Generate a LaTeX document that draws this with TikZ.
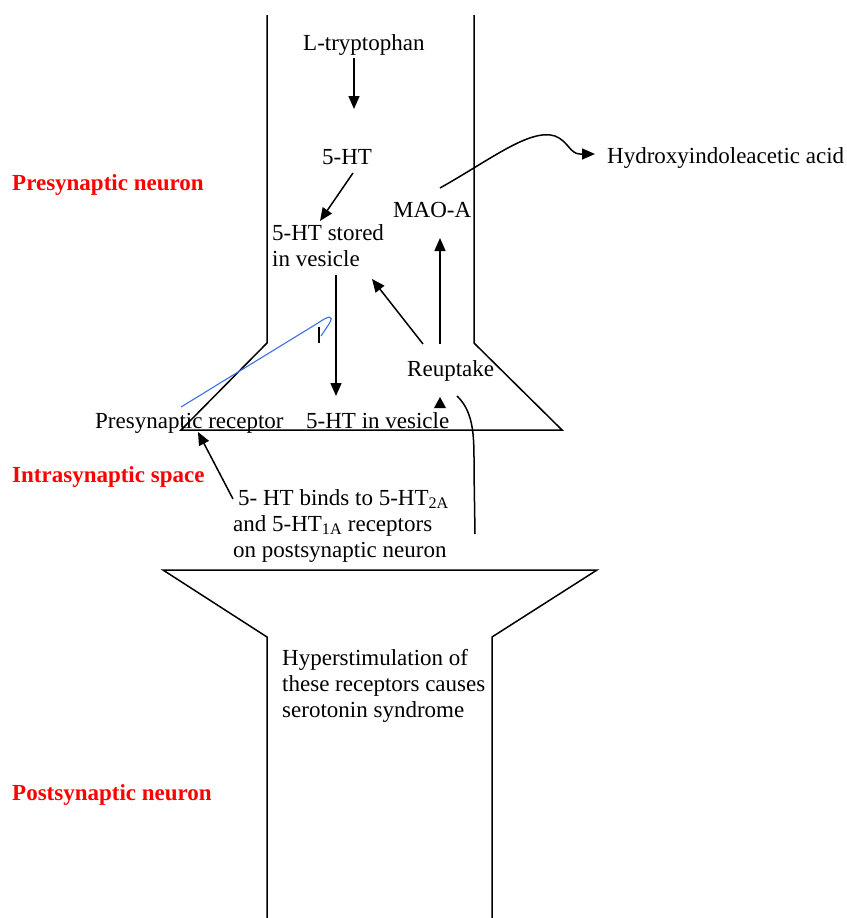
\documentclass[tikz,border=0pt]{standalone}
\usepackage{fontspec}
\setmainfont{Liberation Serif}
\usetikzlibrary{arrows.meta}
\definecolor{lblred}{RGB}{255,0,0}
\definecolor{bluepen}{RGB}{60,110,230}
\tikzset{
  lbl/.style={inner sep=0pt, anchor=base west, font=\fontsize{23}{26}\selectfont},
  mlbl/.style={inner sep=0pt, anchor=north west, align=left, font=\fontsize{23}{26}\selectfont},
  region/.style={inner sep=0pt, anchor=base west, text=lblred, font=\fontsize{23}{26}\selectfont\bfseries},
  outline/.style={line width=1.5pt, line join=miter},
  arr/.style={line width=1.5pt, -{Triangle[length=13pt,width=11pt]}},
}
\begin{document}
\begin{tikzpicture}[x=1pt,y=-1pt]
\useasboundingbox (0,0) rectangle (846,918);
% neuron outlines
\draw[outline] (267,15) -- (267,343) -- (181,430) -- (562,430) -- (474,343) -- (474,15);
\draw[outline] (267,918) -- (267,637) -- (163,570) -- (597,570) -- (492,637) -- (492,918);
% region labels
\node[region] (pre) at (12,190) {Presynaptic neuron};
\node[region] (intra) at (12,482) {Intrasynaptic space};
\node[region] (post) at (12,800) {Postsynaptic neuron};
% text nodes
\node[lbl] (ltrp) at (303,50) {L-tryptophan};
\node[lbl] (ht) at (322,164) {5-HT};
\node[lbl] (hiaa) at (607,163) {Hydroxyindoleacetic acid};
\node[lbl] (mao) at (393,217) {MAO-A};
\node[mlbl] (stored) at (272,224) {5-HT stored\\in vesicle};
\node[lbl] (reup) at (407,376) {Reuptake};
\node[lbl] (prerec) at (95,428) {Presynaptic receptor};
\node[lbl] (vesic) at (306,428) {5-HT in vesicle};
\node[mlbl] (binds) at (233,489) {\hspace*{5pt}5- HT binds to 5-HT\textsubscript{2A}\\and 5-HT\textsubscript{1A} receptors\\on postsynaptic neuron};
\node[mlbl] (hyper) at (282,649) {Hyperstimulation of\\these receptors causes\\serotonin syndrome};
% connector end points
\coordinate (a1) at (354,58);   \coordinate (a2) at (354,109);
\coordinate (b1) at (353,173);  \coordinate (b2) at (320,221);
\coordinate (c1) at (336,275);  \coordinate (c2) at (336,396);
\coordinate (d1) at (423,344);  \coordinate (d2) at (372,279);
\coordinate (e1) at (440,344);  \coordinate (e2) at (440,238);
\coordinate (f1) at (440,188);  \coordinate (f2) at (595,154);
\coordinate (g1) at (233,499);  \coordinate (g2) at (198,432);
\coordinate (h1) at (457,396);  \coordinate (h2) at (475,534);
% arrows
\draw[arr] (a1) -- (a2);
\draw[arr] (b1) -- (b2);
\draw[arr] (c1) -- (c2);
\draw[arr] (d1) -- (d2);
\draw[arr] (e1) -- (e2);
\draw[arr] (f1) .. controls (490,160) and (530,128) .. (555,136) .. controls (568,141) and (570,154) .. (580,154) -- (f2);
\draw[arr] (g1) -- (g2);
\draw[line width=1.5pt] (h1) .. controls (475,413) and (474,440) .. (474,470) -- (h2);
\fill (434,408) -- (446,408) -- (440,397) -- cycle;
% blue pen stroke
\draw[bluepen, line width=1.1pt] (181,407) -- (318,323) .. controls (328,316) and (335,314) .. (329,324) -- (321,336);
\draw[line width=1.1pt] (319,327) -- (319,343);
\end{tikzpicture}
\end{document}
